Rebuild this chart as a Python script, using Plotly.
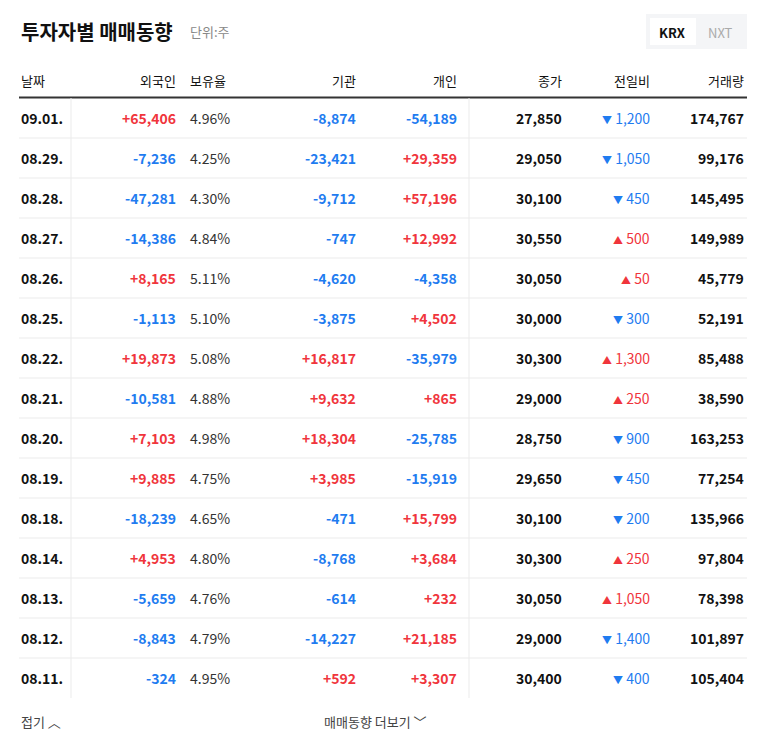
import plotly.graph_objects as go

dates = ["09.01.","08.29.","08.28.","08.27.","08.26.","08.25.","08.22.","08.21.","08.20.","08.19.","08.18.","08.14.","08.13.","08.12.","08.11."]
foreign = [65406,-7236,-47281,-14386,8165,-1113,19873,-10581,7103,9885,-18239,4953,-5659,-8843,-324]
hold = ["4.96%","4.25%","4.30%","4.84%","5.11%","5.10%","5.08%","4.88%","4.98%","4.75%","4.65%","4.80%","4.76%","4.79%","4.95%"]
inst = [-8874,-23421,-9712,-747,-4620,-3875,16817,9632,18304,3985,-471,-8768,-614,-14227,592]
indiv = [-54189,29359,57196,12992,-4358,4502,-35979,865,-25785,-15919,15799,3684,232,21185,3307]
close = [27850,29050,30100,30550,30050,30000,30300,29000,28750,29650,30100,30300,30050,29000,30400]
change = [-1200,-1050,-450,500,50,-300,1300,250,-900,-450,-200,250,1050,-1400,-400]
volume = [174767,99176,145495,149989,45779,52191,85488,38590,163253,77254,135966,97804,78398,101897,105404]
headers = ["날짜","외국인","보유율","기관","개인","종가","전일비","거래량"]

RED = "#f0353c"; BLUE = "#1f7cf0"; DARK = "#111111"
FONT = "Noto Sans CJK KR"

fig = go.Figure()
ann = []
shapes = []

def txt(x, y, t, color=DARK, size=14, anchor="right", bold=False):
    ann.append(dict(x=x, y=y, xref="x", yref="y", text=f"<b>{t}</b>" if bold else t,
                    showarrow=False, xanchor=anchor, yanchor="middle",
                    font=dict(family=FONT, size=size, color=color)))

def signed(v):
    return (f"+{v:,}" if v > 0 else f"{v:,}"), (RED if v > 0 else BLUE)

txt(21, 31, "투자자별 매매동향", size=20, anchor="left", bold=True)
txt(190, 31, "단위:주", color="#888888", size=13, anchor="left")
shapes.append(dict(type="rect", x0=648, x1=749, y0=14, y1=49, xref="x", yref="y",
                   fillcolor="#f4f5f7", line=dict(width=0), layer="below"))
shapes.append(dict(type="rect", x0=652, x1=698, y0=18, y1=45, xref="x", yref="y",
                   fillcolor="white", line=dict(width=0), layer="below"))
txt(674, 32, "KRX", size=13, anchor="center", bold=True)
txt(722, 32, "NXT", color="#aaaaaa", size=13, anchor="center")

hx = [(21,"left"),(180,"right"),(190,"left"),(360,"right"),(461,"right"),(566,"right"),(654,"right"),(748,"right")]
for (x,a),h in zip(hx, headers):
    txt(x, 80, h, size=13, anchor=a)
shapes.append(dict(type="line", x0=21, x1=749, y0=97.5, y1=97.5, xref="x", yref="y",
                   line=dict(color="#333333", width=2)))

for i in range(len(dates)):
    y = 118 + 40*i
    txt(21, y, dates[i], anchor="left", bold=True)
    t,c = signed(foreign[i]); txt(180, y, t, c, bold=True)
    txt(190, y, hold[i], "#333333", anchor="left")
    t,c = signed(inst[i]); txt(360, y, t, c, bold=True)
    t,c = signed(indiv[i]); txt(461, y, t, c, bold=True)
    txt(566, y, f"{close[i]:,}", bold=True)
    ch = change[i]
    sym = "▲" if ch > 0 else "▼"
    col = RED if ch > 0 else BLUE
    txt(654, y, f"<span style='font-size:10px'>{sym}</span> {abs(ch):,}", col)
    txt(748, y, f"{volume[i]:,}", bold=True)
    if i < len(dates)-1:
        shapes.append(dict(type="line", x0=21, x1=749, y0=y+20, y1=y+20, xref="x", yref="y",
                           line=dict(color="#ebebeb", width=1)))

for vx in (73, 471):
    shapes.append(dict(type="line", x0=vx, x1=vx, y0=98, y1=698, xref="x", yref="y",
                       line=dict(color="#ebebeb", width=1)))

txt(21, 721, "접기 ︿", "#444444", size=13, anchor="left")
txt(324, 721, "매매동향 더보기 ﹀", "#444444", size=13, anchor="left")

fig.update_layout(width=768, height=749, margin=dict(l=0,r=0,t=0,b=0),
                  paper_bgcolor="white", plot_bgcolor="white",
                  xaxis=dict(range=[10,778], visible=False, fixedrange=True),
                  yaxis=dict(range=[757,8], visible=False, fixedrange=True),
                  annotations=ann, shapes=shapes, showlegend=False)
fig.write_html("out.html")
